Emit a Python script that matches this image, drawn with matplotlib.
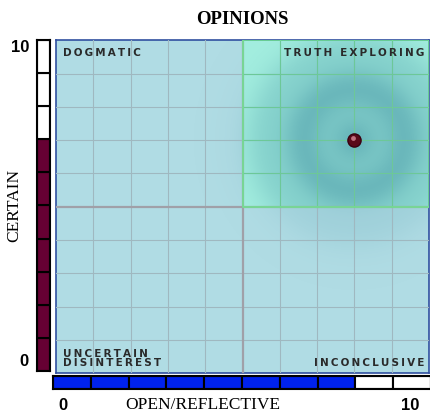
import numpy as np
import matplotlib
matplotlib.use("Agg")
import matplotlib.pyplot as plt
from matplotlib.patches import Rectangle

# data
POINT_X, POINT_Y = 8, 7          # open/reflective, certain
SCALE_MAX = 10
QUADRANT_LABELS = ["DOGMATIC", "TRUTH EXPLORING", "UNCERTAIN\nDISINTEREST", "INCONCLUSIVE"]

BG, QUAD, GRID = "#b0dce4", "#a4efe0", "#9fb8c0"
MAROON, BLUE = "#660033", "#0022ee"

W, H = 431, 415
fig = plt.figure(figsize=(W / 100, H / 100), dpi=100)


def fx(px):
    return px / W


def fy(py):
    return 1 - py / H


def spaced(s):
    return "\n".join("\u2009".join(line) for line in s.split("\n"))


# main panel
ax = fig.add_axes([fx(56), fy(373), fx(429) - fx(56), fy(40.5) - fy(373)])
ax.set_xlim(0, SCALE_MAX); ax.set_ylim(0, SCALE_MAX)
ax.set_facecolor(BG)
ax.add_patch(Rectangle((5, 5), 5, 5, color=QUAD, zorder=1))

# glow around the point, measured in pixels
gx, gy = np.meshgrid(np.linspace(0, 10, 500), np.linspace(0, 10, 500))
r = np.hypot((gx - POINT_X) * 37.3, (gy - POINT_Y) * 33.2) / 115
alpha = 0.6 / (1 + np.exp((r - 0.8) / 0.12)) * (0.88 + 0.12 * np.cos(r * 14))
alpha[gy < 5] *= 0.45
img = np.zeros(gx.shape + (4,))
img[..., 0], img[..., 1], img[..., 2] = 0.25, 0.56, 0.63
img[..., 3] = np.clip(alpha, 0, 1)
ax.imshow(img, extent=(0, 10, 0, 10), origin="lower", zorder=2, aspect="auto")

for v in range(1, SCALE_MAX):
    mid = v == 5
    ax.axvline(v, color="#a0a0a8" if mid else GRID, lw=1.6 if mid else 0.8, zorder=3)
    ax.axhline(v, color="#a0a0a8" if mid else GRID, lw=1.6 if mid else 0.8, zorder=3)
for v in range(6, SCALE_MAX):
    ax.plot([v, v], [5, 10], color="#6cc898", lw=0.8, zorder=3.1)
    ax.plot([5, 10], [v, v], color="#6cc898", lw=0.8, zorder=3.1)
ax.add_patch(Rectangle((5, 5), 5, 5, fill=False, ec="#70e090", lw=1.2, zorder=3.2))

ax.scatter([POINT_X], [POINT_Y], s=90, color="#5a0a1a", edgecolor="#3a0010", zorder=5)
ax.scatter([POINT_X - 0.05], [POINT_Y + 0.06], s=12, color="#c07080", zorder=6, lw=0)

lab = dict(fontsize=7.5, fontweight="heavy", color="#2a2a2a", family="DejaVu Sans", zorder=6)
ax.text(0.2, 9.78, spaced(QUADRANT_LABELS[0]), ha="left", va="top", **lab)
ax.text(9.88, 9.78, spaced(QUADRANT_LABELS[1]), ha="right", va="top", **lab)
ax.text(0.2, 0.15, spaced(QUADRANT_LABELS[2]), ha="left", va="bottom", linespacing=0.9, **lab)
ax.text(9.88, 0.15, spaced(QUADRANT_LABELS[3]), ha="right", va="bottom", **lab)

ax.set_xticks([]); ax.set_yticks([])
for s in ax.spines.values():
    s.set_color("#3050a0"); s.set_linewidth(1.2)

# vertical scale bar (certain)
axv = fig.add_axes([fx(37), fy(371), fx(50) - fx(37), fy(40) - fy(371)])
axv.set_xlim(0, 1); axv.set_ylim(0, SCALE_MAX)
for i in range(SCALE_MAX):
    axv.add_patch(Rectangle((0, i), 1, 1, fc=MAROON if i < POINT_Y else "white",
                            ec="black", lw=1.5))
axv.set_xticks([]); axv.set_yticks([])
for s in axv.spines.values():
    s.set_linewidth(1.5)

# horizontal scale bar (open/reflective)
axh = fig.add_axes([fx(53), fy(389), fx(431) - fx(53), fy(376) - fy(389)])
axh.set_xlim(0, SCALE_MAX); axh.set_ylim(0, 1)
for i in range(SCALE_MAX):
    axh.add_patch(Rectangle((i, 0), 1, 1, fc=BLUE if i < POINT_X else "white",
                            ec="black", lw=1.5))
axh.set_xticks([]); axh.set_yticks([])
for s in axh.spines.values():
    s.set_linewidth(1.5)

fig.text(fx(242), fy(20), "OPINIONS", ha="center", va="center", fontsize=13.5,
         fontweight="bold", family="Liberation Serif")
num = dict(fontsize=12, fontweight="bold", family="Liberation Sans")
fig.text(fx(20), fy(48), "10", ha="center", va="center", **num)
fig.text(fx(24), fy(361), "0", ha="center", va="center", **num)
fig.text(fx(63), fy(405), "0", ha="center", va="center", **num)
fig.text(fx(410), fy(405), "10", ha="center", va="center", **num)
fig.text(fx(14), fy(205), "CERTAIN", ha="center", va="center", rotation=90,
         fontsize=12.5, family="Liberation Serif")
fig.text(fx(203), fy(405), "OPEN/REFLECTIVE", ha="center", va="center",
         fontsize=12.5, family="Liberation Serif")

fig.savefig("out.png", dpi=100)
